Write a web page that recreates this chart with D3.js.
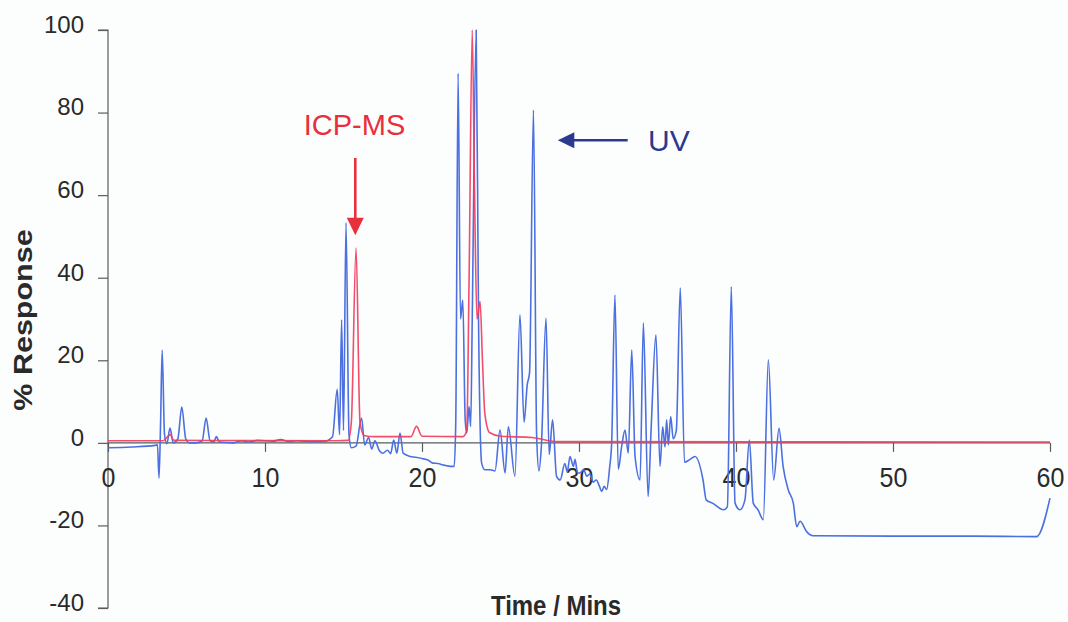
<!DOCTYPE html>
<html>
<head>
<meta charset="utf-8">
<script src="https://cdn.jsdelivr.net/npm/d3@7/dist/d3.min.js"></script>
<style>
  html, body { margin: 0; padding: 0; background: #fcfefe; }
  svg { display: block; font-family: "Liberation Sans", Arial, sans-serif; }
</style>
</head>
<body>
<svg id="chart" width="1068" height="622"></svg>
<script>
// ---- data ----
const xTicks = [0, 10, 20, 30, 40, 50, 60];
const yTicks = [-40, -20, 0, 20, 40, 60, 80, 100];

// UV trace: [time (min), % response]
const uvTime = [0, 1.5, 3.0, 3.15, 3.25, 3.35, 3.45, 3.6, 3.75, 3.95, 4.15, 4.45, 4.7, 4.95, 5.2, 5.6, 6.0, 6.25, 6.5, 6.75, 6.9, 7.1, 8.0, 8.5, 9.0, 9.5, 10.5, 11.0, 11.5, 12.0, 13.0, 13.8, 14.3, 14.6, 14.75, 14.88, 15.0, 15.16, 15.35, 15.5, 15.8, 16.15, 16.35, 16.6, 16.8, 17.0, 17.3, 17.5, 17.8, 18.0, 18.2, 18.4, 18.6, 18.8, 19.25, 19.6, 20.0, 20.4, 20.7, 21.0, 21.4, 21.8, 22.05, 22.15, 22.3, 22.45, 22.6, 22.75, 22.85, 23.0, 23.1, 23.2, 23.45, 23.6, 23.8, 24.0, 24.33, 24.65, 24.97, 25.29, 25.5, 25.92, 26.24, 26.5, 26.7, 26.85, 27.1, 27.3, 27.45, 27.6, 27.9, 28.1, 28.32, 28.57, 28.8, 29.1, 29.25, 29.43, 29.64, 29.75, 29.9, 30.06, 30.3, 30.5, 30.7, 30.9, 31.1, 31.3, 31.45, 31.6, 31.76, 31.95, 32.08, 32.29, 32.5, 32.72, 32.93, 33.14, 33.36, 33.57, 33.89, 34.1, 34.4, 34.6, 34.9, 35.16, 35.33, 35.48, 35.58, 35.69, 35.84, 36.0, 36.2, 36.45, 36.72, 37.07, 37.39, 37.9, 38.1, 38.5, 39.2, 39.45, 39.7, 39.94, 40.25, 40.57, 40.85, 41.1, 41.4, 41.74, 42.06, 42.4, 42.74, 43.0, 43.33, 43.65, 43.87, 44.08, 44.5, 44.9, 50.0, 55.0, 59.15, 60.0];
const uvValue = [-1.2, -1.0, -0.6, -0.5, -8.5, 5, 22.5, 2, -0.2, 3.6, 0, 1, 8.7, 1, 0, 0, 0.5, 6, 0.5, 0.3, 1.5, 0.2, 0, 0.5, 0.2, 0.6, 0.4, 0.8, 0.3, 0.5, 0.3, 0.4, 1.5, 13, 2, 29.8, 3, 53.3, 2, -1.2, -0.8, 6, -0.5, 1.3, -1.5, 0.5, -2, -2.5, -1.8, -2.6, 0.7, -2.5, 2.4, -2.5, -3.3, -3.5, -3.8, -4.2, -4.9, -5.0, -5.4, -5.7, -5.7, 5, 89.5, 30, 34.6, 5.6, 2.4, 8.8, 4, 30, 100, 30, -4.9, -6.5, -6.5, -6.8, 3.1, -7.3, 3.9, -8.1, 31, 5, 14, 17, 80.6, 2, -6.8, -1, 30.2, -2.8, 5.6, -8.1, -9, -5, -7, -3.3, -5.7, -4, -7.3, -7.3, -6.5, -8.1, -7.5, -9.5, -9, -10.5, -11.8, -10.5, -11.3, -6, 0, 35.8, -6.4, -0.8, 3.1, -2.5, 22.5, -3.3, -9, 29, -13, 3.9, 26.2, -5.7, 3.9, -1, 5.6, -0.5, 6.4, 1, 3.1, 37.5, -4.7, -4, -3.3, -9, -13.8, -14.6, -16.2, -15.5, 37.8, -14.6, -16.2, -13.8, 0.7, -14.6, -16.2, -18.6, 20.1, -9, 3.5, -5.7, -11.4, -14.6, -20.3, -19, -21.5, -22.5, -22.6, -22.6, -22.7, -13.4];

// ICP-MS trace: [time (min), % response]
const icpTime = [0, 3.5, 3.8, 3.95, 4.2, 14.5, 15.3, 15.5, 15.8, 16.05, 16.3, 17.0, 19.3, 19.65, 20.0, 22.6, 22.85, 23.0, 23.2, 23.35, 23.5, 23.7, 23.85, 24.0, 24.3, 25.0, 27.0, 28.6, 60.0];
const icpValue = [0.5, 0.5, 1.5, 2, 0.6, 0.5, 0.6, 5, 47.2, 5, 1.8, 1.5, 1.5, 4, 1.6, 1.5, 3, 40, 100, 60, 30, 34.2, 20, 7.2, 2.5, 1.6, 1.3, 0.3, 0.2];

const xTitle = "Time / Mins";
const yTitle = "% Response";
const icpLabel = "ICP-MS";
const uvLabel = "UV";

// ---- chart ----
const svg = d3.select("#chart");
const x = d3.scaleLinear().domain([0, 60]).range([108, 1050]);
const y = d3.scaleLinear().domain([-40, 100]).range([608, 30]);

const axisColor = "#5a5a5a";
const blue = "#4d70e0";
const red = "#f23a5c";
const fmt = d => String(d);

// Y axis
const yAxis = svg.append("g").attr("transform", `translate(${x(0)},0)`)
  .call(d3.axisLeft(y).tickValues(yTicks).tickSize(10).tickFormat(fmt));
yAxis.select(".domain").attr("stroke", axisColor).attr("stroke-width", 1.2).attr("d", `M-10,${y(100)}H0V${y(-40)}H-10`);
yAxis.selectAll(".tick line").attr("stroke", axisColor).attr("stroke-width", 1.2);
yAxis.selectAll(".tick text")
  .attr("x", -24).attr("dy", "0.1em")
  .attr("fill", "#2a2a2a")
  .style("font-size", "24px")
  .style("font-family", "'Liberation Sans', Arial, sans-serif");

// X axis at y = 0
const xAxis = svg.append("g").attr("transform", `translate(0,${y(0)})`)
  .call(d3.axisBottom(x).tickValues(xTicks).tickSize(9).tickFormat(fmt));
xAxis.select(".domain").attr("stroke", axisColor).attr("stroke-width", 1.2).attr("d", `M${x(0)},0H${x(60)}`);
xAxis.selectAll(".tick line").attr("stroke", axisColor).attr("stroke-width", 1.2);
xAxis.selectAll(".tick text")
  .attr("y", 26).attr("dy", "0.71em")
  .attr("fill", "#2a2a2a")
  .style("font-size", "25px")
  .style("font-family", "'Liberation Sans', Arial, sans-serif")
  .attr("transform", "translate(0,-3) scale(1,1.08)");

// Lines
const uvData = uvTime.map((t, i) => [t, uvValue[i]]);
const icpData = icpTime.map((t, i) => [t, icpValue[i]]);
const line = d3.line().x(d => x(d[0])).y(d => y(d[1])).curve(d3.curveMonotoneX);

svg.append("path").datum(uvData)
  .attr("fill", "none").attr("stroke", blue).attr("stroke-width", 1.6)
  .attr("stroke-linejoin", "round").attr("d", line);
svg.append("path").datum(icpData)
  .attr("fill", "none").attr("stroke", red).attr("stroke-width", 1.6)
  .attr("stroke-linejoin", "round").attr("stroke-opacity", 0.9).attr("d", line);

// Axis titles
svg.append("text")
  .attr("transform", `translate(556,615) scale(1,1.17)`)
  .attr("text-anchor", "middle")
  .attr("font-weight", "bold").attr("font-size", 24).attr("fill", "#2a2a2a")
  .text(xTitle);
svg.append("text")
  .attr("transform", `translate(32,320) rotate(-90) scale(1.22,1)`)
  .attr("text-anchor", "middle")
  .attr("font-weight", "bold").attr("font-size", 25).attr("fill", "#2a2a2a")
  .text(yTitle);

// Annotations
const icpColor = "#e8303c";
const uvColor = "#2b3990";
svg.append("text")
  .attr("x", x(15.7)).attr("y", y(74.6))
  .attr("text-anchor", "middle").attr("font-size", 29).attr("fill", icpColor)
  .text(icpLabel);
svg.append("line")
  .attr("x1", x(15.75)).attr("x2", x(15.75)).attr("y1", y(69)).attr("y2", y(54))
  .attr("stroke", icpColor).attr("stroke-width", 2.6);
svg.append("path")
  .attr("d", `M${x(15.75)-8.5},${y(54.5)}L${x(15.75)+8.5},${y(54.5)}L${x(15.75)},${y(50.3)}Z`)
  .attr("fill", icpColor);

svg.append("text")
  .attr("x", x(34.4)).attr("y", y(70.6))
  .attr("font-size", 30).attr("fill", uvColor)
  .text(uvLabel);
svg.append("line")
  .attr("x1", x(33.1)).attr("x2", x(29.5)).attr("y1", y(73.3)).attr("y2", y(73.3))
  .attr("stroke", uvColor).attr("stroke-width", 2.6);
svg.append("path")
  .attr("d", `M${x(29.7)},${y(73.3)-8}L${x(29.7)},${y(73.3)+8}L${x(28.65)},${y(73.3)}Z`)
  .attr("fill", uvColor);
</script>
</body>
</html>
